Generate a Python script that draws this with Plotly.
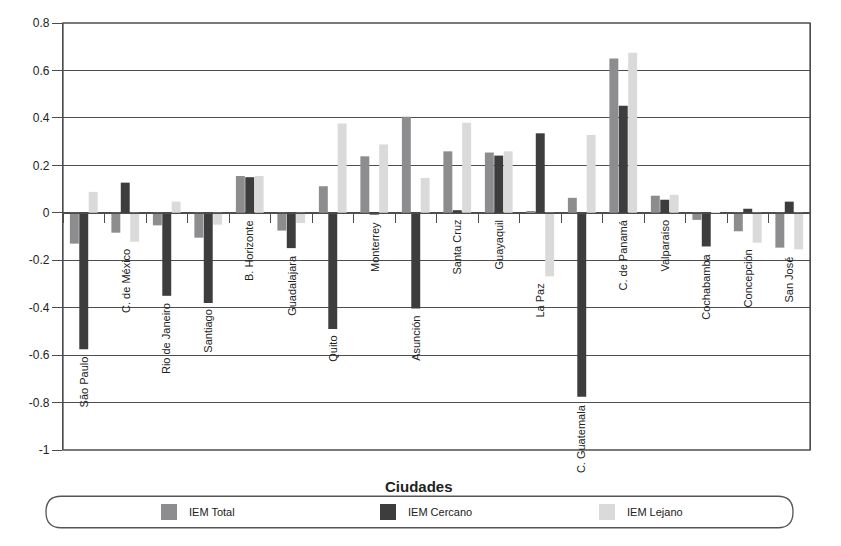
import plotly.graph_objects as go

cities = ["São Paulo", "C. de México", "Rio de Janeiro", "Santiago", "B. Horizonte",
          "Guadalajara", "Quito", "Monterrey", "Asunción", "Santa Cruz", "Guayaquil",
          "La Paz", "C. Guatemala", "C. de Panamá", "Valparaíso", "Cochabamba",
          "Concepción", "San José"]
iem_total = [-0.13, -0.084, -0.053, -0.105, 0.155, -0.075, 0.112, 0.238, 0.405, 0.259,
             0.254, 0.007, 0.063, 0.65, 0.072, -0.03, -0.078, -0.147]
iem_cercano = [-0.575, 0.127, -0.35, -0.38, 0.15, -0.149, -0.49, -0.008, -0.404, 0.011,
               0.241, 0.335, -0.776, 0.451, 0.055, -0.142, 0.017, 0.047]
iem_lejano = [0.088, -0.122, 0.047, -0.05, 0.155, -0.043, 0.376, 0.288, 0.147, 0.379,
              0.259, -0.268, 0.328, 0.675, 0.076, -0.004, -0.126, -0.154]
series_names = ["IEM Total", "IEM Cercano", "IEM Lejano"]
series_colors = ["#8d8d90", "#3d3d3d", "#dadada"]
ytick_vals = [0.8, 0.6, 0.4, 0.2, 0, -0.2, -0.4, -0.6, -0.8, -1]
ytick_text = ["0.8", "0.6", "0.4", "0.2", "0", "-0.2", "-0.4", "-0.6", "-0.8", "-1"]
x_title = "Ciudades"

FONT = "Liberation Sans, Arial, sans-serif"
GRID = "#4d4d4d"
# page body margin offsets the figure by 8px
OFF = 8
SCR_W, SCR_H = 841, 546
PL, PR, PT, PB = 63, 810, 16, 450          # plot area in screen pixels
W, H = SCR_W - OFF, SCR_H - OFF
ML, MT = PL - OFF, PT - OFF
MR, MB = SCR_W - PR, SCR_H - PB
PW, PH = PR - PL, PB - PT


def px(x):
    return (x - PL) / PW


def py(y):
    return (PB - y) / PH


fig = go.Figure()
for name, vals, col in zip(series_names, [iem_total, iem_cercano, iem_lejano], series_colors):
    fig.add_trace(go.Bar(x=cities, y=vals, name=name, marker=dict(color=col, line=dict(width=0)),
                         showlegend=False, legendgroup=name))
    fig.add_trace(go.Scatter(x=[None], y=[None], mode="markers", name=name, legendgroup=name,
                             marker=dict(symbol="square", size=18, color=col), showlegend=True))

# city labels under lowest bar
annotations = []
for i, c in enumerate(cities):
    low = min(0, iem_total[i], iem_cercano[i], iem_lejano[i])
    annotations.append(dict(x=c, y=low, xref="x", yref="y", text=c, showarrow=False,
                            textangle=-90, xanchor="center", yanchor="top", yshift=-5,
                            font=dict(family=FONT, size=11, color="#222")))
annotations.append(dict(x=px(419), y=py(487), xref="paper", yref="paper", text="<b>" + x_title + "</b>",
                        showarrow=False, xanchor="center", yanchor="middle",
                        font=dict(family=FONT, size=15, color="#222")))

# rounded legend frame
x0, x1, y0, y1, r = 46, 793, 497, 529, 15
ym = (y0 + y1) / 2
path = (f"M {px(x0 + r)},{py(y0)} L {px(x1 - r)},{py(y0)} Q {px(x1)},{py(y0)} {px(x1)},{py(ym)} "
        f"Q {px(x1)},{py(y1)} {px(x1 - r)},{py(y1)} L {px(x0 + r)},{py(y1)} "
        f"Q {px(x0)},{py(y1)} {px(x0)},{py(ym)} Q {px(x0)},{py(y0)} {px(x0 + r)},{py(y0)} Z")
shapes = [
    dict(type="path", xref="paper", yref="paper", path=path, line=dict(color="#555", width=1.3)),
    dict(type="rect", xref="paper", yref="paper", x0=0, x1=1, y0=0, y1=1,
         line=dict(color=GRID, width=1.3)),
]

zero_pos = (0 - ytick_vals[-1]) / (ytick_vals[0] - ytick_vals[-1])

fig.update_layout(
    width=W, height=H,
    margin=dict(l=ML, r=MR, t=MT, b=MB),
    paper_bgcolor="white", plot_bgcolor="white",
    barmode="group", bargap=0.32, bargroupgap=0.05,
    font=dict(family=FONT, size=12, color="#222"),
    annotations=annotations, shapes=shapes,
    legend=dict(orientation="h", x=px(149), xanchor="left", y=py(513), yanchor="middle",
                entrywidth=174, entrywidthmode="pixels", bgcolor="rgba(0,0,0,0)",
                font=dict(family=FONT, size=11, color="#222"), itemclick=False),
    xaxis=dict(type="category", range=[-0.5, len(cities) - 0.5], anchor="free", position=zero_pos,
               showline=True, linecolor=GRID, linewidth=1.3, ticks="outside", tickson="boundaries",
               ticklen=9, tickcolor=GRID, tickwidth=1.3, showticklabels=False, showgrid=False,
               fixedrange=True),
    yaxis=dict(range=[ytick_vals[-1], ytick_vals[0]], tickvals=ytick_vals, ticktext=ytick_text,
               showgrid=True, gridcolor=GRID, gridwidth=1.3, zeroline=True, zerolinecolor=GRID,
               zerolinewidth=1.3, showline=True, linecolor=GRID, linewidth=1.3, mirror=True,
               ticks="outside", ticklen=10, tickcolor=GRID, tickwidth=1.3,
               tickfont=dict(family=FONT, size=12, color="#222"), fixedrange=True),
)

fig.write_html("out.html")
